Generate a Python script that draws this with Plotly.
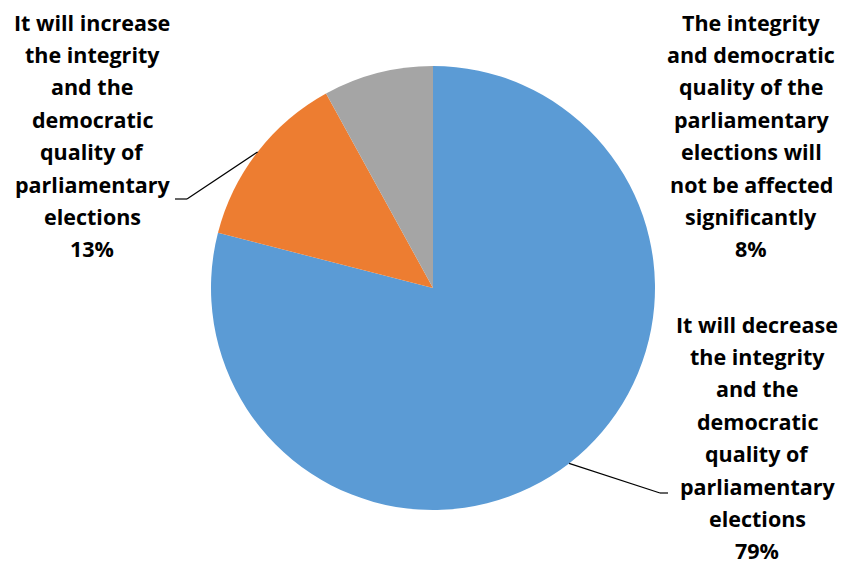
import math
import plotly.graph_objects as go

# Survey answers, in clockwise order from 12 o'clock
answers = [
    "It will decrease the integrity and the democratic quality of parliamentary elections",
    "It will increase the integrity and the democratic quality of parliamentary elections",
    "The integrity and democratic quality of the parliamentary elections will not be affected significantly",
]
shares = [79, 13, 8]
colors = ["#5B9BD5", "#ED7D31", "#A5A5A5"]

# How each label breaks into lines
label_lines = [
    ["It will decrease", "the integrity", "and the", "democratic", "quality of",
     "parliamentary", "elections"],
    ["It will increase", "the integrity", "and the", "democratic", "quality of",
     "parliamentary", "elections"],
    ["The integrity", "and democratic", "quality of the", "parliamentary",
     "elections will", "not be affected", "significantly"],
]

W, H = 843, 566
CX, CY, R = 433, 288, 222          # pie centre and radius in pixels
LINE_STEP = 32.4                   # label line pitch in pixels
FONT = dict(family="'Open Sans', sans-serif", size=21.5, color="#000000")

# label blocks: (centre x, first line y) in pixels
label_pos = [(757, 324), (92, 22), (751, 22)]
# elbow of leader line (x at label side, y of elbow); None means no leader
leader_elbow = [((660, 493), (668, 493)), ((187, 199), (175, 199)), None]


def px(x):
    return x / W


def py(y):
    return 1 - y / H


fig = go.Figure(
    go.Pie(
        labels=answers,
        values=shares,
        sort=False,
        direction="clockwise",
        rotation=0,
        marker=dict(colors=colors, line=dict(width=0)),
        textinfo="none",
        hoverinfo="label+percent",
        domain=dict(x=[px(CX - R), px(CX + R)], y=[py(CY + R), py(CY - R)]),
        showlegend=False,
    )
)

annotations = []
shapes = []
total = sum(shares)
cum = 0
for i, (lines, share) in enumerate(zip(label_lines, shares)):
    x0, y0 = label_pos[i]
    pct = round(100 * share / total)
    for k, t in enumerate(lines + [f"{pct}%"]):
        annotations.append(dict(
            x=px(x0), y=py(y0 + k * LINE_STEP), xref="paper", yref="paper",
            text=f"<b>{t}</b>", showarrow=False, xanchor="center",
            yanchor="middle", font=FONT,
        ))
    # leader line from the middle of the slice's arc
    mid = (cum + share / 2) / total * 2 * math.pi
    cum += share
    if leader_elbow[i] is not None:
        ex = CX + R * math.sin(mid)
        ey = CY - R * math.cos(mid)
        (bx, by), (tx, ty) = leader_elbow[i]
        for (a, b), (c, d) in [((ex, ey), (bx, by)), ((bx, by), (tx, ty))]:
            shapes.append(dict(
                type="line", xref="paper", yref="paper",
                x0=px(a), y0=py(b), x1=px(c), y1=py(d),
                line=dict(color="#000000", width=1.2),
            ))

fig.update_layout(
    width=W, height=H,
    margin=dict(l=0, r=0, t=0, b=0),
    paper_bgcolor="#FFFFFF",
    plot_bgcolor="#FFFFFF",
    annotations=annotations,
    shapes=shapes,
)

fig.write_html("out.html")
